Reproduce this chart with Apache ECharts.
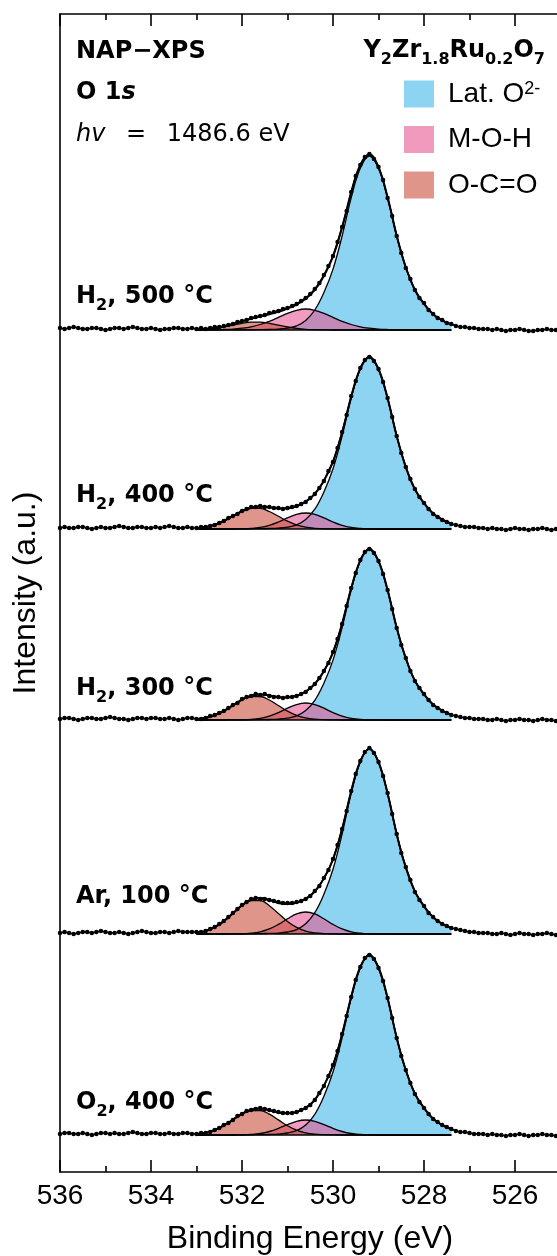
<!DOCTYPE html>
<html>
<head>
<meta charset="utf-8">
<script src="https://cdn.jsdelivr.net/npm/echarts@6/dist/echarts.min.js"></script>
<style>
html, body { margin: 0; padding: 0; background: #fff; }
#chart { width: 557px; height: 1256px; }
</style>
</head>
<body>
<div id="chart"></div>
<script>
// O 1s NAP-XPS of Y2Zr1.8Ru0.2O7, five conditions stacked with an offset.
// measured points: 536.0 -> 524.5 eV, 0.1 eV steps
// fit components: 533.0 -> 527.4 eV, 0.2 eV steps
var measStart = 536.0, measStep = 0.1;
var fitStart = 533.0, fitStep = 0.2;

var panelLabels = ['H{sub|2}, 500 °C', 'H{sub|2}, 400 °C', 'H{sub|2}, 300 °C', 'Ar, 100 °C', 'O{sub|2}, 400 °C'];
var panelOffsets = [842, 643, 452, 238, 37];

var h2_500_data = [2,1,2,3,2,1,1,2,2,1,0,1,2,2,1,2,3,2,1,1,2,1,0,1,1,2,2,1,1,2,
  1,2,1,2,3,3,4,5,6,8,9,10,12,13,14,15,17,18,19,21,22,24,26,29,32,36,41,47,55,64,
  74,88,103,119,138,154,165,173,176,171,163,150,132,114,94,77,62,51,40,32,27,20,16,12,10,7,6,
  4,3,3,2,2,1,1,1,0,1,0,-1,0,0,1,0,-1,-1,0,0,1,0,0,-1,0,1,0,0,-1];
var h2_500_lat = [0,0,0.2,0.2,0.2,0.2,0.2,0.3,0.5,0.9,1.9,4.2,9.6,20.0,37.4,60.9,94.0,132.2,161.8,174,161.8,132.2,94.0,62.6,40.0,26.1,15.7,9.6,5.6];
var h2_500_moh = [0.1,0.1,0.2,0.5,0.9,1.8,3.2,5.5,8.6,12.6,16.6,19.7,21,19.7,16.6,12.6,8.6,5.5,3.2,1.8,0.9,0.5,0.2,0.1,0,0,0,0,0];
var h2_500_oco = [0.3,0.7,1.6,3.0,4.8,6.7,7.8,7.8,6.7,4.8,3.0,1.6,0.7,0.3,0.1,0,0,0,0,0,0,0,0,0,0,0,0,0,0];
var h2_500_fit = [0.3,0.8,1.9,3.6,5.9,8.6,11.2,13.7,15.8,18.3,21.5,25.5,31.3,40.0,54.1,73.5,102.6,137.7,165.0,175.8,162.8,132.7,94.2,62.7,40.0,26.1,15.7,9.6,5.6];

var h2_400_data = [1,2,1,1,2,2,1,0,1,2,1,1,2,3,2,1,1,2,2,1,1,2,1,2,3,2,1,1,2,1,
  1,2,2,3,4,6,8,11,13,15,18,20,22,22,23,22,22,21,21,20,21,22,23,25,27,31,35,41,48,58,
  67,81,97,114,133,148,161,169,172,168,160,147,131,112,93,76,62,50,40,32,26,20,15,12,9,7,5,
  4,3,2,2,2,1,1,0,1,0,0,-1,0,1,0,0,-1,0,0,1,0,-1,0,0,1,0,0,-1,0];
var h2_400_lat = [0,0,0.2,0.2,0.2,0.2,0.2,0.3,0.5,0.9,1.9,4.1,9.5,19.8,37.0,60.2,92.9,130.7,160.0,172,160.0,130.7,92.9,61.9,39.6,25.8,15.5,9.5,5.5];
var h2_400_moh = [0,0,0,0,0,0.2,0.6,1.6,3.7,7.0,11.1,14.6,16,14.6,11.1,7.0,3.7,1.6,0.6,0.2,0,0,0,0,0,0,0,0,0];
var h2_400_oco = [0.7,1.8,4.1,7.8,12.7,17.5,20.6,20.6,17.5,12.7,7.8,4.1,1.8,0.7,0.2,0.1,0,0,0,0,0,0,0,0,0,0,0,0,0];
var h2_400_fit = [0.7,1.8,4.2,8.0,12.9,17.8,21.3,22.5,21.7,20.5,20.8,22.8,27.3,35.1,48.3,67.3,96.6,132.3,160.6,172.2,160.0,130.7,92.9,61.9,39.6,25.8,15.5,9.5,5.5];

var h2_300_data = [1,2,2,1,0,1,2,2,1,1,2,3,2,1,1,0,1,2,2,1,2,2,1,1,2,1,0,1,2,2,
  1,1,2,4,5,7,9,12,15,17,21,23,24,26,25,26,24,23,23,22,23,23,24,26,28,32,36,42,49,57,
  68,81,96,114,132,147,160,168,171,167,159,146,130,111,92,75,62,49,39,32,26,20,15,12,9,7,5,
  4,3,2,2,1,1,1,0,0,1,0,-1,0,0,1,0,0,-1,0,1,0,0,-1,0,0,1,0,-1,0];
var h2_300_lat = [0,0,0.2,0.2,0.2,0.2,0.2,0.3,0.5,0.9,1.9,4.1,9.4,19.7,36.8,59.9,92.3,130.0,159.0,171,159.0,130.0,92.3,61.6,39.3,25.7,15.4,9.4,5.5];
var h2_300_moh = [0,0,0,0,0.1,0.2,0.6,1.7,3.9,7.4,11.8,15.5,17,15.5,11.8,7.4,3.9,1.7,0.6,0.2,0.1,0,0,0,0,0,0,0,0];
var h2_300_oco = [0.8,2.1,4.7,8.9,14.5,20.0,23.5,23.5,20.0,14.5,8.9,4.7,2.1,0.8,0.3,0.1,0,0,0,0,0,0,0,0,0,0,0,0,0];
var h2_300_fit = [0.8,2.1,4.8,9.1,14.7,20.4,24.4,25.6,24.5,22.8,22.5,24.3,28.5,36.0,48.8,67.4,96.3,131.7,159.7,171.2,159.1,130.0,92.3,61.6,39.3,25.7,15.4,9.4,5.5];

var ar_100_data = [1,2,1,0,1,2,2,1,2,3,2,1,1,2,1,0,1,2,3,2,1,1,2,2,1,2,3,2,2,2,
  2,2,3,5,7,10,13,17,21,25,29,32,35,36,35,35,34,33,32,31,31,31,32,33,35,38,43,48,56,64,
  75,89,105,123,143,160,173,182,186,181,172,158,141,120,100,81,67,54,42,34,28,21,17,13,10,8,6,
  5,4,3,2,2,1,1,1,0,0,1,0,-1,0,1,0,0,-1,0,0,1,0,-1,0,0,1,0,0,-1];
var ar_100_lat = [0,0,0.2,0.2,0.2,0.2,0.2,0.4,0.6,0.9,2.0,4.4,10.2,21.3,39.8,64.8,99.9,140.6,172.1,185,172.1,140.6,99.9,66.6,42.6,27.8,16.7,10.2,5.9];
var ar_100_moh = [0,0,0,0,0.1,0.2,0.8,2.2,5.1,9.6,15.2,20.1,22,20.1,15.2,9.6,5.1,2.2,0.8,0.2,0.1,0,0,0,0,0,0,0,0];
var ar_100_oco = [1.1,2.9,6.6,12.6,20.5,28.3,33.3,33.3,28.3,20.5,12.6,6.6,2.9,1.1,0.4,0.1,0,0,0,0,0,0,0,0,0,0,0,0,0];
var ar_100_fit = [1.1,2.9,6.8,12.8,20.8,28.8,34.3,35.9,34.0,31.1,29.9,31.1,35.1,42.5,55.4,74.5,105.0,142.8,172.9,185.2,172.1,140.6,99.9,66.6,42.6,27.8,16.7,10.2,5.9];

var o2_400_data = [1,2,2,1,1,2,1,0,1,2,2,1,2,1,1,2,3,2,1,1,2,2,1,1,2,1,1,2,2,1,
  1,2,2,3,5,7,10,12,15,19,21,24,25,26,27,26,25,24,23,22,22,22,23,25,27,30,35,42,49,59,
  70,84,101,119,138,155,168,177,180,176,167,154,137,117,97,79,65,52,41,33,27,21,16,13,10,8,6,
  4,3,3,2,1,1,1,0,1,0,0,-1,0,0,1,0,-1,0,0,1,0,0,-1,0,1,0,0,-1,0];
var o2_400_lat = [0,0,0.2,0.2,0.2,0.2,0.2,0.4,0.5,0.9,2.0,4.3,9.9,20.7,38.7,63.0,97.2,136.8,167.4,180,167.4,136.8,97.2,64.8,41.4,27.0,16.2,9.9,5.8];
var o2_400_moh = [0,0,0,0,0,0.2,0.6,1.5,3.5,6.6,10.4,13.7,15,13.7,10.4,6.6,3.5,1.5,0.6,0.2,0,0,0,0,0,0,0,0,0];
var o2_400_oco = [0.8,2.2,4.9,9.3,15.1,20.8,24.5,24.5,20.8,15.1,9.3,4.9,2.2,0.8,0.3,0.1,0,0,0,0,0,0,0,0,0,0,0,0,0];
var o2_400_fit = [0.8,2.2,5.0,9.5,15.3,21.2,25.2,26.4,24.8,22.6,21.7,22.9,27.1,35.2,49.4,69.7,100.7,138.3,168.0,180.2,167.5,136.8,97.2,64.8,41.4,27.0,16.2,9.9,5.8];

var xTicks = [524, 536, 2];   // min, max, major step

var panels = [
  {data: h2_500_data, lat: h2_500_lat, moh: h2_500_moh, oco: h2_500_oco, fit: h2_500_fit},
  {data: h2_400_data, lat: h2_400_lat, moh: h2_400_moh, oco: h2_400_oco, fit: h2_400_fit},
  {data: h2_300_data, lat: h2_300_lat, moh: h2_300_moh, oco: h2_300_oco, fit: h2_300_fit},
  {data: ar_100_data, lat: ar_100_lat, moh: ar_100_moh, oco: ar_100_oco, fit: ar_100_fit},
  {data: o2_400_data, lat: o2_400_lat, moh: o2_400_moh, oco: o2_400_oco, fit: o2_400_fit}
];

var fillLat = 'rgba(63,184,232,0.6)', fillMoh = 'rgba(230,89,148,0.6)', fillOco = 'rgba(203,78,60,0.6)';
var keyLat = '#8cd4f1', keyMoh = '#f09abe', keyOco = '#e0958a';

function pairs(start, step, values, offset) {
  return values.map(function (v, i) {
    return [Math.round((start - i * step) * 100) / 100, v + offset];
  });
}

var series = [];
panels.forEach(function (p, k) {
  var off = panelOffsets[k];
  var comps = [['Lat. O2-', p.lat, fillLat, keyLat], ['M-O-H', p.moh, fillMoh, keyMoh], ['O-C=O', p.oco, fillOco, keyOco]];
  comps.forEach(function (c) {
    series.push({
      type: 'line', name: c[0], data: pairs(fitStart, fitStep, c[1], off),
      smooth: 0.4, symbol: 'none', silent: true,
      itemStyle: {color: c[3]},
      lineStyle: {color: '#000', width: 1.3},
      areaStyle: {color: c[2], opacity: 1, origin: off}
    });
  });
  // flat background under the fit
  series.push({
    type: 'line', data: [[fitStart, off], [fitStart - fitStep * (p.fit.length - 1), off]],
    symbol: 'none', silent: true, lineStyle: {color: '#000', width: 1.5}
  });
  series.push({
    type: 'line', data: pairs(fitStart, fitStep, p.fit, off),
    smooth: 0.4, symbol: 'none', silent: true, lineStyle: {color: '#000', width: 2}
  });
  series.push({
    type: 'line', data: pairs(measStart, measStep, p.data, off),
    symbol: 'circle', symbolSize: 4.5, showSymbol: true, silent: true,
    itemStyle: {color: '#000'}, lineStyle: {color: '#000', width: 1.6}
  });
});

var xBase = {
  type: 'value', min: xTicks[0], max: xTicks[1], interval: xTicks[2], inverse: true,
  axisLine: {lineStyle: {color: '#000', width: 1.6}},
  axisTick: {inside: true, length: 12, lineStyle: {color: '#000', width: 1.6}},
  minorTick: {show: true, splitNumber: 2, length: 6, lineStyle: {color: '#000', width: 1.6}},
  splitLine: {show: false}
};

var graphics = [
  {type: 'text', left: 76, top: 40, style: {text: 'NAP\u2212XPS', fontFamily: 'DejaVu Sans', fontWeight: 'bold', fontSize: 24, fill: '#000'}},
  {type: 'text', left: 76, top: 81, style: {text: 'O 1{it|s}', fontFamily: 'DejaVu Sans', fontWeight: 'bold', fontSize: 24, fill: '#000',
    rich: {it: {fontFamily: 'DejaVu Sans', fontWeight: 'bold', fontStyle: 'italic', fontSize: 24}}}},
  {type: 'text', left: 76, top: 123, style: {text: '{it|hv} {eq|=} 1486.6 eV', fontFamily: 'DejaVu Sans', fontSize: 24, fill: '#000',
    rich: {it: {fontFamily: 'DejaVu Sans', fontStyle: 'italic', fontSize: 24}, eq: {fontFamily: 'DejaVu Sans', fontSize: 24, padding: [0, 13]}}}},
  {type: 'text', right: 12, top: 34, style: {text: 'Y{sub|2}Zr{sub|1.8}Ru{sub|0.2}O{sub|7}', fontFamily: 'DejaVu Sans', fontWeight: 'bold', fontSize: 24, lineHeight: 34, fill: '#000',
    rich: {sub: {fontFamily: 'DejaVu Sans', fontWeight: 'bold', fontSize: 16, lineHeight: 34, verticalAlign: 'bottom'}}}}
];
var labelBaselines = [305, 504, 697, 905, 1111];
panelLabels.forEach(function (t, k) {
  graphics.push({type: 'text', left: 76, top: labelBaselines[k] - 25, style: {text: t, fontFamily: 'DejaVu Sans', fontWeight: 'bold', fontSize: 24, lineHeight: 34, fill: '#000',
    rich: {sub: {fontFamily: 'DejaVu Sans', fontWeight: 'bold', fontSize: 16, lineHeight: 34, verticalAlign: 'bottom'}}}});
});

var chart = echarts.init(document.getElementById('chart'));
chart.setOption({
  animation: false,
  backgroundColor: '#fff',
  grid: {left: 60, top: 14, width: 546, height: 1158, outerBoundsMode: 'none', containLabel: false},
  legend: {
    left: 404, top: 80, orient: 'vertical', itemWidth: 30, itemHeight: 27, itemGap: 17.5, padding: 0,
    selectedMode: false,
    data: [
      {name: 'Lat. O2-', icon: 'rect', itemStyle: {color: keyLat, borderWidth: 0}},
      {name: 'M-O-H', icon: 'rect', itemStyle: {color: keyMoh, borderWidth: 0}},
      {name: 'O-C=O', icon: 'rect', itemStyle: {color: keyOco, borderWidth: 0}}
    ],
    formatter: function (name) { return name === 'Lat. O2-' ? 'Lat. O{sup|2-}' : name; },
    textStyle: {fontFamily: 'Liberation Sans', fontSize: 28, color: '#000', lineHeight: 27, padding: [0, 0, 0, 9],
      rich: {sup: {fontFamily: 'Liberation Sans', fontSize: 18, lineHeight: 27, verticalAlign: 'top'}}}
  },
  xAxis: [
    Object.assign({}, xBase, {
      position: 'bottom',
      axisLabel: {fontFamily: 'Liberation Sans', fontSize: 28, color: '#000', margin: 10},
      name: 'Binding Energy (eV)', nameLocation: 'middle', nameGap: 51,
      nameTextStyle: {fontFamily: 'Liberation Sans', fontSize: 32, color: '#000', padding: [0, 46, 0, 0]}
    }),
    Object.assign({}, xBase, {position: 'top', axisLabel: {show: false}})
  ],
  yAxis: {
    type: 'value', min: 0, max: 1158,
    axisLine: {show: true, lineStyle: {color: '#000', width: 1.6}},
    axisTick: {show: false}, axisLabel: {show: false}, splitLine: {show: false},
    name: 'Intensity (a.u.)', nameLocation: 'middle', nameGap: 18,
    nameTextStyle: {fontFamily: 'Liberation Sans', fontSize: 32, color: '#000'}
  },
  graphic: graphics,
  series: series
});
</script>
</body>
</html>
